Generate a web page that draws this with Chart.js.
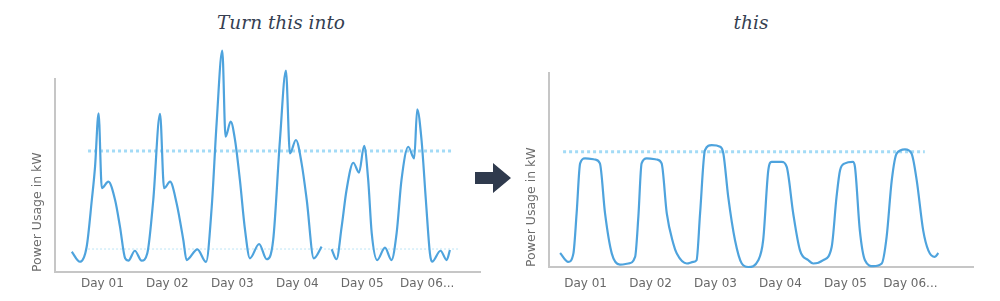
<!DOCTYPE html>
<html><head><meta charset="utf-8">
<script src="https://cdn.jsdelivr.net/npm/chart.js@4.4.1/dist/chart.umd.min.js"></script>
<style>
html,body{margin:0;padding:0;background:#fff;width:1000px;height:301px;overflow:hidden;}
.wrap{position:absolute;top:0;height:301px;}
.title{position:absolute;font-family:"DejaVu Serif",serif;font-style:italic;font-size:18.5px;color:#363f52;white-space:nowrap;transform:translateX(-50%);top:9px;line-height:28px;}
#arrow{position:absolute;left:475px;top:163px;}
</style></head><body>
<div class="title" style="left:281px">Turn this into</div>
<div class="title" style="left:751px">this</div>
<div class="wrap" style="left:0;width:490px"><canvas id="c1" width="490" height="301"></canvas></div>
<div class="wrap" style="left:500px;width:500px"><canvas id="c2" width="500" height="301"></canvas></div>
<svg id="arrow" width="37" height="31"><polygon points="0,9 18,9 18,0 36,15 18,30 18,21 0,21" fill="#2f3a4d"/></svg>
<script>
// ---- shared labels ----
const dayLabels = ['Day 01','Day 02','Day 03','Day 04','Day 05','Day 06...'];
const yTitle = 'Power Usage in kW';

// ---- "before" chart ----
const beforeTickHours = [17.5,41.5,65.5,89.5,113.5,137.5];
const beforeHours = [6.2,9.2,11.7,13.6,14.8,16.1,17.3,19.7,22.2,24.0,25.9,27.1,29.5,32.0,34.1,36.3,38.8,40.3,42.5,44.9,47.4,48.6,52.6,55.8,57.9,59.7,61.8,63.0,64.9,66.5,68.3,70.2,72.0,75.4,78.2,80.6,83.1,85.3,86.8,89.0,91.1,93.0,95.6,98.5,100.3,102.2,104.0,105.9,107.7,110.2,112.3,114.2,115.7,117.0,119.0,121.9,124.3,126.2,128.0,130.5,132.7,133.8,135.4,137.0,138.5,139.3,142.4,144.7,145.9];
const beforeKW = [10.5,5.3,13.1,37.3,54.6,82.2,43.4,46.8,37.3,23.5,7.1,5.9,11.0,5.9,9.7,37.3,81.9,43.4,46.8,35.8,16.6,6.2,11.7,5.2,33.8,77.0,114.7,70.1,77.9,68.4,47.7,21.8,7.1,14.5,6.6,16.6,68.4,104.3,61.5,68.4,56.3,37.3,7.1,13.1,null,11.8,6.6,23.5,42.5,56.6,51.5,65.3,47.7,20.1,6.2,12.6,6.2,20.1,47.7,64.9,58.9,84.3,68.4,37.3,9.7,5.3,11.0,6.2,11.4];
const beforeLimitHours = [12.2,146.6];
const beforeLimitKW = [62.7,62.7];
const beforeBaseHours = [12.2,149.6];
const beforeBaseKW = [11.9,11.9];

// ---- "after" chart ----
const afterTickHours = [13.5,37.5,61.5,85.5,109.5,133.5];
const afterHours = [4.1,7.1,9.0,10.2,11.5,13.3,17.0,18.8,20.7,23.2,26.2,29.3,31.8,33.0,34.2,36.1,39.8,41.6,43.5,45.9,47.2,50.9,53.3,54.5,55.8,57.6,60.1,63.2,64.4,66.2,68.7,71.2,73.6,77.3,79.1,81.0,82.2,85.9,87.8,90.2,92.7,95.8,97.6,101.3,104.4,106.2,107.5,109.3,112.2,113.0,114.8,116.7,119.8,122.9,124.7,126.6,128.4,131.5,133.9,135.8,138.2,140.1,142.5,143.8];
const afterKW = [7.2,2.6,6.9,27.6,53.4,56.0,55.4,53.4,27.6,6.9,1.2,1.8,5.2,25.8,53.4,56.0,55.4,53.4,27.6,12.1,6.9,1.8,2.6,3.5,27.6,60.2,62.8,62.0,58.5,36.1,13.8,1.8,0.0,3.5,13.8,49.9,54.2,54.2,51.6,27.6,8.6,3.5,1.8,3.5,10.3,36.1,49.9,53.4,54.2,51.6,18.9,3.5,0.4,1.8,15.5,44.8,58.5,60.6,58.5,44.8,18.9,8.6,5.2,7.2];
const afterLimitHours = [5.2,138.8];
const afterLimitKW = [59.4,59.4];

const pts = (xs, ys) => xs.map((x, i) => ({x: x, y: ys[i]}));

function makeChart(id, o) {
  const tickFont = {family: "'DejaVu Sans', sans-serif", size: 12, weight: 'normal'};
  const datasets = [{
    data: pts(o.hours, o.kw), borderColor: '#4ea3dd', borderWidth: 2.2,
    pointRadius: 0, cubicInterpolationMode: 'monotone', clip: false, spanGaps: false, order: 0
  }];
  o.refs.forEach((r, k) => datasets.push({
    data: pts(r.hours, r.kw), borderColor: r.color, borderWidth: r.width,
    borderDash: r.dash, pointRadius: 0, order: 1 + k
  }));
  return new Chart(document.getElementById(id), {
    type: 'line',
    data: {datasets: datasets},
    options: {
      responsive: false, animation: false, devicePixelRatio: 1,
      layout: {padding: o.padding},
      plugins: {legend: {display: false}, tooltip: {enabled: false}},
      scales: {
        x: {
          type: 'linear', min: 0, max: o.xMax,
          grid: {display: false, drawTicks: false},
          border: {display: true, color: '#c6c6c6', width: 2},
          afterBuildTicks: s => { s.ticks = o.tickHours.map(v => ({value: v})); },
          afterFit: s => { s.height = o.xAxisH; },
          ticks: {
            autoSkip: false, maxRotation: 0, color: '#686868', font: tickFont, padding: o.tickPad,
            callback: (v, i) => dayLabels[i]
          }
        },
        y: {
          min: 0, max: 100,
          grid: {display: false, drawTicks: false},
          border: {display: true, color: '#c6c6c6', width: 2},
          ticks: {display: false},
          afterFit: s => { s.width = o.yAxisW; },
          title: {
            display: true, text: yTitle, align: 'start', color: '#6c6c6c',
            font: {family: "'DejaVu Sans', sans-serif", size: 12.5, weight: 'normal'},
            padding: {top: o.titlePad, bottom: 0}
          }
        }
      }
    }
  });
}

makeChart('c1', {
  hours: beforeHours, kw: beforeKW, tickHours: beforeTickHours, xMax: 157,
  padding: {top: 79, right: 10, left: 0, bottom: 0}, xAxisH: 29, tickPad: 5, yAxisW: 55, titlePad: 30,
  refs: [
    {hours: beforeLimitHours, kw: beforeLimitKW, color: '#a3dbf6', width: 3, dash: [3, 3]},
    {hours: beforeBaseHours, kw: beforeBaseKW, color: '#d3eef9', width: 1.5, dash: [2, 2]}
  ]
});

makeChart('c2', {
  hours: afterHours, kw: afterKW, tickHours: afterTickHours, xMax: 156.6,
  padding: {top: 73, right: 27, left: 0, bottom: 0}, xAxisH: 34, tickPad: 10, yAxisW: 49, titlePad: 24,
  refs: [
    {hours: afterLimitHours, kw: afterLimitKW, color: '#a3dbf6', width: 3, dash: [3, 3]}
  ]
});
</script>
</body></html>
